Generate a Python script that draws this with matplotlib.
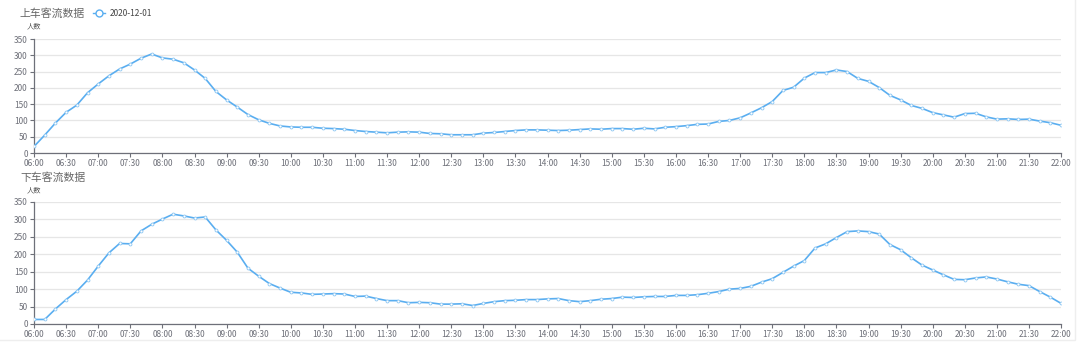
import numpy as np
import matplotlib
matplotlib.use('Agg')
import matplotlib.pyplot as plt
from matplotlib.lines import Line2D
from matplotlib.patches import Rectangle

plt.rcParams['font.family'] = ['Noto Sans CJK SC', 'DejaVu Sans']

# 10-minute slots from 06:00 to 22:00
times = ['%02d:%02d' % (6 + i // 6, (i % 6) * 10) for i in range(97)]

boarding = [20, 55, 92, 125, 147, 185, 212, 237, 258, 273, 291, 304, 292, 288, 277, 255,
            229, 189, 163, 141, 118, 102, 91, 83, 80, 79, 79, 76, 75, 73, 69,
            66, 64, 62, 64, 65, 64, 60, 59, 56, 56, 56, 61, 63, 66, 69, 71, 71, 70,
            69, 70, 72, 74, 73, 75, 75, 73, 76, 74, 79, 81, 84, 88, 89, 97,
            100, 108, 123, 139, 158, 192, 202, 230, 247, 247, 255, 250, 229, 220, 201, 177,
            163, 146, 137, 124, 117, 110, 121, 122, 111, 104, 105, 103, 104, 98, 93, 85]

alighting = [13, 13, 43, 70, 94, 126, 166, 204, 231, 230, 267, 286, 301, 315, 310, 304,
             307, 270, 240, 206, 160, 137, 116, 103, 91, 89, 85, 86, 87, 86, 79,
             80, 73, 67, 67, 61, 62, 61, 57, 57, 58, 53, 59, 64, 67, 68, 70, 70, 72,
             73, 67, 64, 67, 71, 73, 77, 76, 78, 79, 79, 82, 82, 84, 88, 93,
             100, 102, 108, 120, 130, 148, 166, 182, 218, 230, 248, 265, 267, 265, 258, 228,
             213, 190, 169, 155, 141, 128, 127, 132, 135, 129, 121, 114, 110, 93, 77, 59]

titles = ['上车客流数据', '下车客流数据']
legend_label = '2020-12-01'
y_ticks = [0, 50, 100, 150, 200, 250, 300, 350]

line_color = '#5aaef0'
axis_color = '#6e7079'
grid_color = '#e6e6e6'
text_color = '#6e7079'

fig = plt.figure(figsize=(10.8, 3.45), dpi=100)

# faint card border on right / bottom
fig.patches.append(Rectangle((-0.01, 0.014), 1.005, 1.1, transform=fig.transFigure,
                             fill=False, edgecolor='#eeeeee', linewidth=1.0))

axes_pos = [[0.0315, 0.5565, 0.951, 0.3304], [0.0315, 0.0609, 0.951, 0.3536]]
title_y = [0.962, 0.485]
unit_y = [0.924, 0.449]

x = np.arange(len(times))
for k, vals in enumerate([boarding, alighting]):
    ax = fig.add_axes(axes_pos[k])
    ax.plot(x, vals, color=line_color, linewidth=1.2, marker='o', markersize=2.1,
            markerfacecolor='white', markeredgecolor='#8cc6f3', markeredgewidth=0.6,
            zorder=3)
    ax.set_xlim(0, len(times) - 1)
    ax.set_ylim(0, 350)
    ax.set_yticks(y_ticks)
    ax.set_xticks(x[::3])
    ax.set_xticklabels(times[::3])
    ax.tick_params(axis='both', labelsize=6, colors=axis_color, length=3, width=0.8, pad=1.5)
    ax.tick_params(axis='both', labelcolor=text_color)
    ax.grid(axis='y', color=grid_color, linewidth=0.9)
    ax.set_axisbelow(True)
    for s in ['top', 'right']:
        ax.spines[s].set_visible(False)
    for s in ['left', 'bottom']:
        ax.spines[s].set_color(axis_color)
        ax.spines[s].set_linewidth(0.9)

    fig.text(0.0185, title_y[k], titles[k], fontsize=7.8, color='#666666', va='center')
    fig.text(0.025, unit_y[k], '人数', fontsize=5.2, color='#555555', va='center')

    if k == 0:
        handle = Line2D([], [], color=line_color, linewidth=1.0, marker='o', markersize=5,
                        markerfacecolor='white', markeredgecolor=line_color)
        ax.legend([handle], [legend_label], loc='center left', bbox_to_anchor=(0.079, 0.962),
                  bbox_transform=fig.transFigure, frameon=False, fontsize=6,
                  handlelength=1.5, handletextpad=0.5, labelcolor='#444444')

plt.savefig('out.png', dpi=100)
